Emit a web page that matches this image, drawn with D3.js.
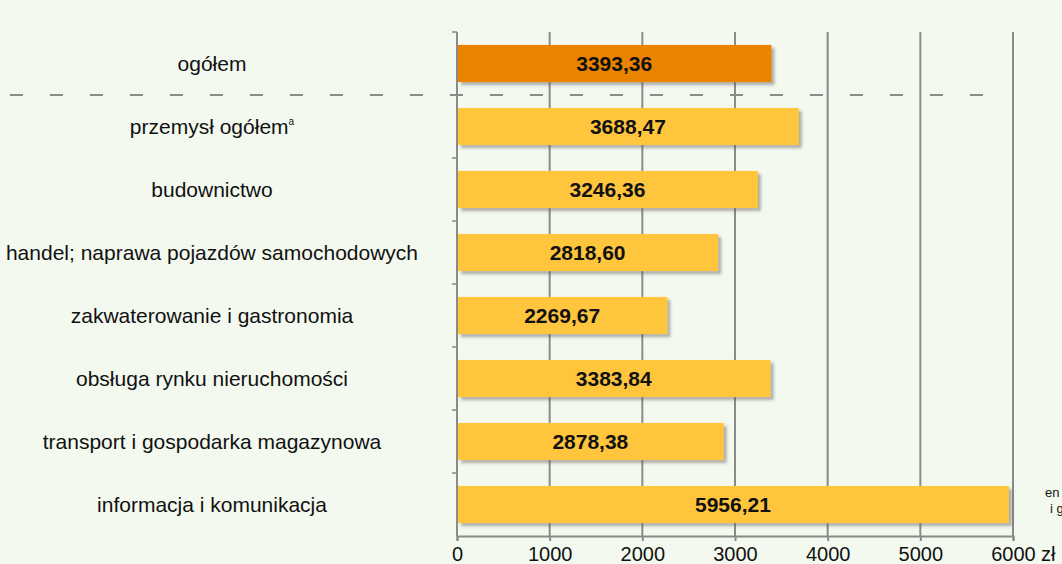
<!DOCTYPE html>
<html>
<head>
<meta charset="utf-8">
<script src="https://cdn.jsdelivr.net/npm/d3@7/dist/d3.min.js"></script>
<style>
    html, body { margin: 0; padding: 0; background: #f4f9ef; }
    svg { display: block; font-family: "Liberation Sans", Arial, sans-serif; }
</style>
</head>
<body>
<div id="chart"></div>
<script>
const categories = [
    "ogółem",
    "przemysł ogółem",
    "budownictwo",
    "handel; naprawa pojazdów samochodowych",
    "zakwaterowanie i gastronomia",
    "obsługa rynku nieruchomości",
    "transport i gospodarka magazynowa",
    "informacja i komunikacja"
];
const values = [3393.36, 3688.47, 3246.36, 2818.60, 2269.67, 3383.84, 2878.38, 5956.21];
const xTicks = [0, 1000, 2000, 3000, 4000, 5000, 6000];
const colors = ["#ea8300", "#fec53d"];

const width = 1062, height = 564;
const plotLeft = 457, plotRight = 1013, plotTop = 32, plotBottom = 536;

const svg = d3.select("#chart").append("svg")
    .attr("width", width)
    .attr("height", height);

svg.append("rect").attr("width", width).attr("height", height).attr("fill", "#f4f9ef");

// soft shadow under bars
const filter = svg.append("defs").append("filter")
    .attr("id", "barShadow")
    .attr("x", "-5%").attr("y", "-20%")
    .attr("width", "115%").attr("height", "160%");
filter.append("feDropShadow")
    .attr("dx", 3).attr("dy", 3)
    .attr("stdDeviation", 1.8)
    .attr("flood-color", "#555")
    .attr("flood-opacity", 0.45);

const x = d3.scaleLinear().domain([0, 6000]).range([plotLeft, plotRight]);
const y = d3.scaleBand().domain(categories).range([plotTop, plotBottom]).paddingInner(0.41).paddingOuter(0.205);
const band = d3.scaleBand().domain(categories).range([plotTop, plotBottom]);

// vertical grid lines
svg.append("g").selectAll("line")
    .data(xTicks.slice(1))
    .join("line")
    .attr("x1", d => x(d)).attr("x2", d => x(d))
    .attr("y1", plotTop).attr("y2", plotBottom)
    .attr("stroke", "#8a8a8a")
    .attr("stroke-width", 2);

// left axis with ticks at band boundaries
const yAxis = svg.append("g");
yAxis.append("line")
    .attr("x1", plotLeft).attr("x2", plotLeft)
    .attr("y1", plotTop).attr("y2", plotBottom)
    .attr("stroke", "#8a8a8a").attr("stroke-width", 2);
yAxis.selectAll(".bt")
    .data(categories)
    .join("line")
    .attr("class", "bt")
    .attr("x1", plotLeft - 5).attr("x2", plotLeft)
    .attr("y1", d => band(d)).attr("y2", d => band(d))
    .attr("stroke", "#8a8a8a").attr("stroke-width", 1.5);

// bottom axis
const xAxis = svg.append("g").attr("transform", `translate(0,${plotBottom})`)
    .call(d3.axisBottom(x).tickValues(xTicks).tickSize(5).tickFormat(d3.format("d")));
xAxis.select(".domain").attr("stroke", "#8a8a8a").attr("stroke-width", 2);
xAxis.selectAll(".tick line").attr("stroke", "#8a8a8a").attr("stroke-width", 2);
xAxis.selectAll(".tick text")
    .attr("font-size", 20)
    .attr("font-family", "Liberation Sans, Arial, sans-serif")
    .attr("fill", "#111")
    .attr("dy", null)
    .attr("y", 25);
svg.append("text")
    .attr("x", 1041).attr("y", 561)
    .attr("font-size", 20).attr("fill", "#111")
    .text("zł");

// dashed separator under total
svg.append("line")
    .attr("x1", 10).attr("x2", 1010)
    .attr("y1", band(categories[1])).attr("y2", band(categories[1]))
    .attr("stroke", "#8a8a8a").attr("stroke-width", 2)
    .attr("stroke-dasharray", "13,27");

// bars
svg.append("g").selectAll("rect")
    .data(values)
    .join("rect")
    .attr("x", x(0) + 1)
    .attr("y", (d, i) => y(categories[i]))
    .attr("width", d => x(d) - x(0) - 1)
    .attr("height", y.bandwidth())
    .attr("fill", (d, i) => i === 0 ? colors[0] : colors[1])
    .attr("filter", "url(#barShadow)");

// value labels
svg.append("g").selectAll("text")
    .data(values)
    .join("text")
    .attr("x", d => (x(0) + x(d)) / 2)
    .attr("y", (d, i) => y(categories[i]) + y.bandwidth() / 2)
    .attr("dy", "0.36em")
    .attr("text-anchor", "middle")
    .attr("font-size", 21)
    .attr("font-weight", "bold")
    .attr("fill", "#111")
    .text(d => d.toFixed(2).replace(".", ","));

// category labels
const catLabels = svg.append("g").selectAll("text")
    .data(categories)
    .join("text")
    .attr("x", 212)
    .attr("y", d => band(d) + band.bandwidth() / 2)
    .attr("dy", "0.36em")
    .attr("text-anchor", "middle")
    .attr("font-size", 21)
    .attr("fill", "#111")
    .text(d => d);
catLabels.filter((d, i) => i === 1)
    .append("tspan")
    .attr("font-size", 10)
    .attr("dy", "-0.9em")
    .text("a");

// cut-off text at right edge
svg.append("text").attr("x", 1045).attr("y", 497).attr("font-size", 13).attr("fill", "#111").text("en");
svg.append("text").attr("x", 1050).attr("y", 513).attr("font-size", 13).attr("fill", "#111").text("i g");
</script>
</body>
</html>
